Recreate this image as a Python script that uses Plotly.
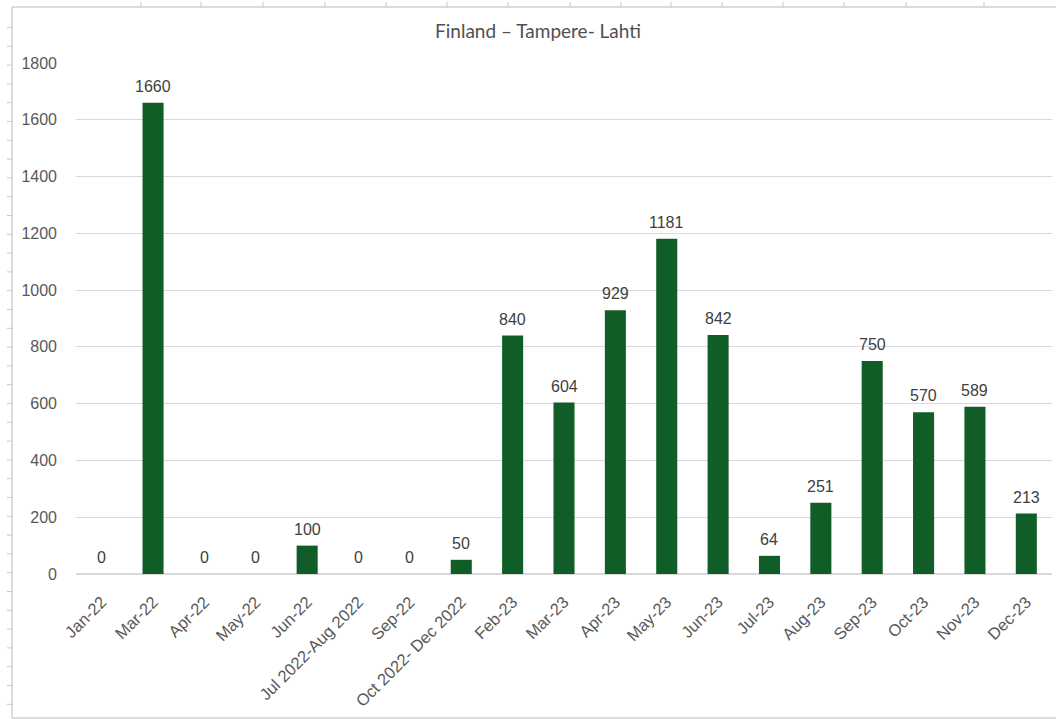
import plotly.graph_objects as go

# Monthly figures for the Tampere - Lahti route
categories = [
    "Jan-22", "Mar-22", "Apr-22", "May-22", "Jun-22", "Jul 2022-Aug 2022",
    "Sep-22", "Oct 2022- Dec 2022", "Feb-23", "Mar-23", "Apr-23", "May-23",
    "Jun-23", "Jul-23", "Aug-23", "Sep-23", "Oct-23", "Nov-23", "Dec-23",
]
values = [0, 1660, 0, 0, 100, 0, 0, 50, 840, 604, 929, 1181, 842, 64, 251, 750, 570, 589, 213]
y_ticks = [0, 200, 400, 600, 800, 1000, 1200, 1400, 1600, 1800]

W, H = 1056, 719
M_L, M_R, M_T, M_B = 76, 4, 63, 145
PW, PH = W - M_L - M_R, H - M_T - M_B

BAR_COLOR = "#115D27"
GRID = "#D9D9D9"
TEXT = "#595959"
FONT = "Liberation Sans, Arial, sans-serif"


def px_x(x):
    return (x - M_L) / PW


def px_y(y):
    return (H - M_B - y) / PH


fig = go.Figure(
    go.Bar(
        x=categories,
        y=values,
        marker=dict(color=BAR_COLOR, line=dict(width=0)),
        hoverinfo="x+y",
    )
)

# Value labels sitting just above each bar
annotations = [
    dict(x=c, y=v, text=str(v), xref="x", yref="y", showarrow=False,
         yanchor="bottom", yshift=6,
         font=dict(family=FONT, size=16, color="#404040"))
    for c, v in zip(categories, values)
]

# Frame around the chart object with the sheet's row and column stubs
shapes = [
    dict(type="line", xref="paper", yref="paper", x0=px_x(12), x1=px_x(W + 5),
         y0=px_y(7), y1=px_y(7), line=dict(color="#D0D0D0", width=1.5)),
    dict(type="line", xref="paper", yref="paper", x0=px_x(12), x1=px_x(12),
         y0=px_y(7), y1=px_y(718), line=dict(color="#D0D0D0", width=1.5)),
    dict(type="line", xref="paper", yref="paper", x0=px_x(12), x1=px_x(W + 5),
         y0=px_y(718), y1=px_y(718), line=dict(color="#D0D0D0", width=1.5)),
]
row_y = 27.5
while row_y < 715:
    shapes.append(dict(type="line", xref="paper", yref="paper", x0=px_x(7), x1=px_x(12),
                       y0=px_y(row_y), y1=px_y(row_y), line=dict(color="#C8C8C8", width=1)))
    row_y += 18.8
for col_x in [141, 201, 263, 325, 386, 447, 508, 570, 621, 671, 722, 783, 844, 906, 984]:
    shapes.append(dict(type="line", xref="paper", yref="paper", x0=px_x(col_x), x1=px_x(col_x),
                       y0=px_y(2), y1=px_y(7), line=dict(color="#C8C8C8", width=1)))

fig.update_layout(
    width=W,
    height=H,
    margin=dict(l=M_L, r=M_R, t=M_T, b=M_B),
    paper_bgcolor="white",
    plot_bgcolor="white",
    bargap=0.59,
    showlegend=False,
    title=dict(
        text="Finland – Tampere- Lahti",
        x=538 / W,
        xanchor="center",
        y=1 - 31 / H,
        yanchor="middle",
        font=dict(family="Lato, Open Sans, sans-serif", size=19, color="#505050"),
    ),
    font=dict(family=FONT, color=TEXT),
    xaxis=dict(
        tickangle=-45,
        tickfont=dict(family=FONT, size=16.5, color=TEXT),
        showgrid=False,
        showline=True,
        linecolor=GRID,
        linewidth=1,
        ticks="",
        ticklabelstandoff=11,
    ),
    yaxis=dict(
        range=[0, 1800],
        tickvals=y_ticks,
        tickfont=dict(family=FONT, size=16, color=TEXT),
        showgrid=True,
        gridcolor=GRID,
        gridwidth=1,
        zeroline=True,
        zerolinecolor=GRID,
        showline=False,
        ticks="",
        ticklabelstandoff=18,
    ),
    shapes=shapes,
    annotations=annotations,
)

fig.write_html("out.html")
